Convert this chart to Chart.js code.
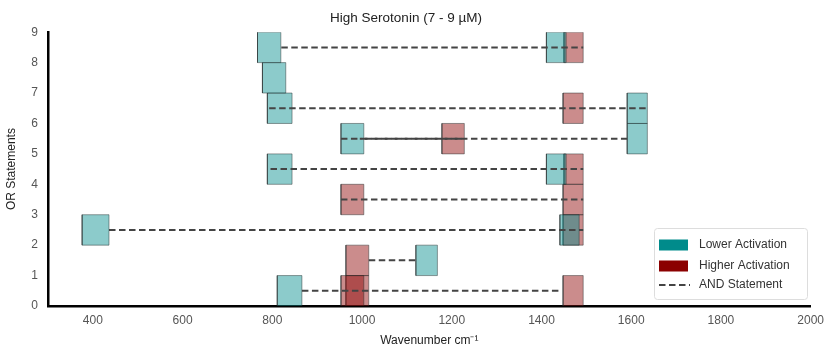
<!DOCTYPE html>
<html>
<head>
<meta charset="utf-8">
<title>High Serotonin (7 - 9 µM)</title>
<script src="https://cdn.jsdelivr.net/npm/chart.js@4.4.1/dist/chart.umd.min.js"></script>
<style>
    html, body { margin: 0; padding: 0; background: #fff; }
    #chart { display: block; }
</style>
</head>
<body>
<canvas id="chart" width="831" height="352"></canvas>
<script>
// Axis ticks
const xTicks = [400, 600, 800, 1000, 1200, 1400, 1600, 1800, 2000];
const yTicks = [0, 1, 2, 3, 4, 5, 6, 7, 8, 9];

// Lower activation windows (wavenumber start / end, OR statement row)
const lowerStart = [767, 778, 789, 953, 789, 1411, 1591, 1591, 1411, 376, 1441, 1120, 811];
const lowerEnd   = [819, 830, 844, 1004, 844, 1455, 1636, 1636, 1455, 436, 1484, 1168, 866];
const lowerRow   = [8, 7, 6, 5, 4, 8, 6, 5, 4, 2, 2, 1, 0];

// Higher activation windows
const higherStart = [1450, 1448, 1178, 1450, 953, 1448, 1448, 964, 953, 964, 1448];
const higherEnd   = [1493, 1493, 1228, 1493, 1004, 1493, 1493, 1015, 1004, 1015, 1493];
const higherRow   = [8, 6, 5, 4, 3, 3, 2, 1, 0, 0, 0];

// AND statements joining windows in a row
const andFrom = [820, 793, 953, 995, 796, 953, 436, 1015, 866];
const andTo   = [1493, 1636, 1591, 1228, 1493, 1493, 1493, 1120, 1441];
const andRow  = [8.5, 6.5, 5.5, 5.5, 4.5, 3.5, 2.5, 1.5, 0.5];

const legendLabels = ['Lower Activation', 'Higher Activation', 'AND Statement'];

const TEAL = '#008b8b';
const RED = '#8b0000';
const FONT = '"Liberation Sans", Arial, sans-serif';

function boxDataset(x0, x1, row, color, order) {
    return {
        type: 'line',
        data: [
            { x: x0, y: row }, { x: x1, y: row },
            { x: x1, y: row + 1 }, { x: x0, y: row + 1 }, { x: x0, y: row }
        ],
        fill: 'shape',
        backgroundColor: color,
        borderColor: 'rgba(30, 40, 40, 0.45)',
        borderWidth: 1,
        pointRadius: 0,
        tension: 0,
        order: order
    };
}

const datasets = [];

higherStart.forEach((x0, i) => {
    datasets.push(boxDataset(x0, higherEnd[i], higherRow[i], 'rgba(139, 0, 0, 0.45)', 2));
});
lowerStart.forEach((x0, i) => {
    datasets.push(boxDataset(x0, lowerEnd[i], lowerRow[i], 'rgba(0, 139, 139, 0.45)', 1));
});
andFrom.forEach((x0, i) => {
    datasets.push({
        type: 'line',
        data: [{ x: x0, y: andRow[i] }, { x: andTo[i], y: andRow[i] }],
        borderColor: '#444',
        borderWidth: 2,
        borderDash: [6.5, 3.5],
        // second line on the same row is shifted so the overlap reads solid
        borderDashOffset: i === 3 ? 5 : 0,
        pointRadius: 0,
        fill: false,
        order: 0
    });
});

// Legend drawn inside the plot, lower right
const legendBox = {
    id: 'legendBox',
    afterDraw(chart) {
        const ctx = chart.ctx;
        const x = 654, y = 228, w = 153, h = 71;
        ctx.save();
        ctx.beginPath();
        ctx.roundRect(x + 0.5, y + 0.5, w, h, 3);
        ctx.fillStyle = 'rgba(255, 255, 255, 0.85)';
        ctx.fill();
        ctx.strokeStyle = '#dddddd';
        ctx.lineWidth = 1;
        ctx.stroke();

        const rows = [245, 266, 285];
        ctx.fillStyle = TEAL;
        ctx.fillRect(659, rows[0] - 5.5, 29, 11);
        ctx.fillStyle = RED;
        ctx.fillRect(659, rows[1] - 5.5, 29, 11);
        ctx.beginPath();
        ctx.setLineDash([6.5, 3.5]);
        ctx.strokeStyle = '#444';
        ctx.lineWidth = 2;
        ctx.moveTo(659, rows[2]);
        ctx.lineTo(690, rows[2]);
        ctx.stroke();
        ctx.setLineDash([]);

        ctx.fillStyle = '#333';
        ctx.font = '12px ' + FONT;
        ctx.textBaseline = 'middle';
        legendLabels.forEach((label, i) => ctx.fillText(label, 699, rows[i]));
        ctx.restore();
    }
};

new Chart(document.getElementById('chart'), {
    type: 'line',
    data: { datasets: datasets },
    options: {
        responsive: false,
        animation: false,
        layout: { padding: { left: 0, right: 19, top: 0, bottom: 0 } },
        plugins: {
            legend: { display: false },
            tooltip: { enabled: false },
            title: {
                display: true,
                text: 'High Serotonin (7 - 9 µM)',
                color: '#222',
                font: { family: FONT, size: 13.5, weight: 'normal' },
                padding: { top: 10, bottom: 6 }
            }
        },
        scales: {
            x: {
                type: 'linear',
                min: 300,
                max: 2000,
                afterBuildTicks: scale => { scale.ticks = xTicks.map(v => ({ value: v })); },
                afterFit: scale => { scale.height = 46; },
                grid: { display: false, drawTicks: false },
                border: { display: true, color: '#000', width: 2.5 },
                ticks: {
                    color: '#555',
                    padding: 7,
                    font: { family: FONT, size: 12 },
                    maxRotation: 0,
                    callback: value => String(value)
                },
                title: {
                    display: true,
                    text: 'Wavenumber cm⁻¹',
                    color: '#222',
                    font: { family: FONT, size: 12 },
                    padding: { top: 0, bottom: 4 }
                }
            },
            y: {
                type: 'linear',
                min: 0,
                max: 9,
                afterBuildTicks: scale => { scale.ticks = yTicks.map(v => ({ value: v })); },
                afterFit: scale => { scale.width = 48; },
                grid: { display: false, drawTicks: false },
                border: { display: true, color: '#000', width: 2.5 },
                ticks: { color: '#555', padding: 10, font: { family: FONT, size: 12 } },
                title: {
                    display: true,
                    text: 'OR Statements',
                    color: '#222',
                    font: { family: FONT, size: 12 },
                    padding: { top: 4, bottom: 0 }
                }
            }
        }
    },
    plugins: [legendBox]
});
</script>
</body>
</html>
